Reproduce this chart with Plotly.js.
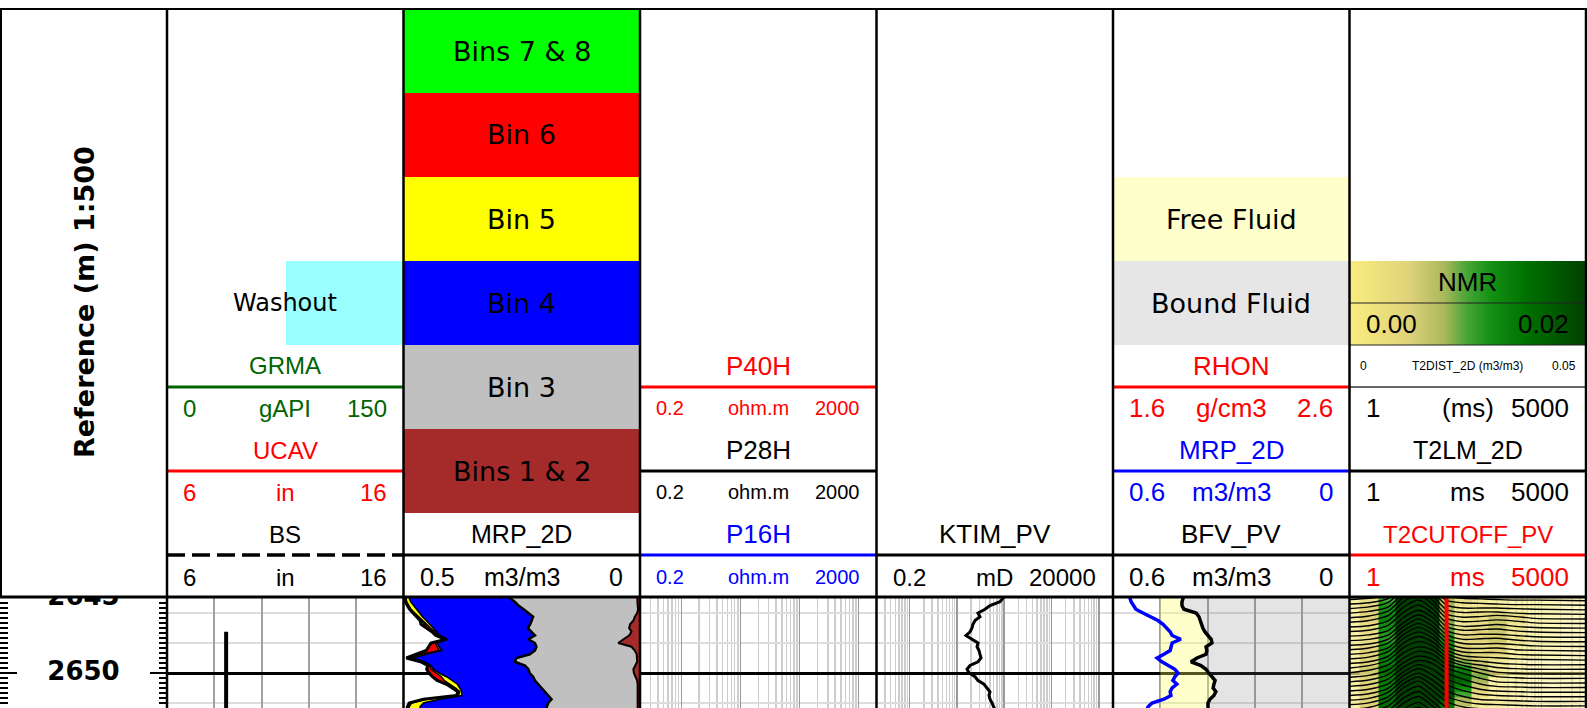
<!DOCTYPE html>
<html><head><meta charset="utf-8">
<script src="https://cdn.plot.ly/plotly-3.0.1.min.js"></script>
<style>html,body{margin:0;padding:0;background:#fff;overflow:hidden}#chart{width:1587px;height:708px}</style>
</head><body><div id="chart"></div>
<script>
const W = 1587, H = 708;
const PX = x => x / W, PY = y => 1 - y / H;

// ---------------- DATA ----------------
const depth = [2644.75,2645,2645.25,2645.5,2645.75,2646,2646.25,2646.5,2646.75,2647,2647.25,2647.5,2647.75,2648,2648.25,2648.5,2648.75,2649,2649.25,2649.5,2649.75,2650,2650.25,2650.5,2650.75,2651,2651.25,2651.5,2651.75,2652,2652.25,2652.5];
const depthLabels = [2645, 2650];

// MRP_2D bins (m3/m3)
const bin12 = [0.006,0.006,0.006,0.005,0.004,0.006,0.011,0.014,0.021,0.023,0.018,0.023,0.035,0.046,0.018,0.011,0.007,0.006,0.006,0.010,0.014,0.013,0.009,0.006,0.005,0.005,0.005,0.005,0.005,0.005,0.005,0.005];
const bin3  = [0.269,0.269,0.259,0.252,0.242,0.230,0.215,0.215,0.211,0.214,0.211,0.199,0.201,0.176,0.201,0.211,0.226,0.255,0.259,0.233,0.222,0.220,0.217,0.216,0.210,0.203,0.196,0.189,0.182,0.189,0.192,0.192];
const bin4  = [0.213,0.213,0.220,0.222,0.227,0.230,0.234,0.223,0.213,0.202,0.201,0.201,0.171,0.207,0.206,0.197,0.219,0.219,0.190,0.199,0.201,0.192,0.183,0.176,0.171,0.173,0.176,0.183,0.236,0.264,0.268,0.268];
const bin5  = [0.007,0.007,0.008,0.010,0.011,0.010,0.007,0.007,0.006,0.004,0.003,0.004,0.001,0.003,0.004,0.005,0.010,0.009,0.004,0.003,0.004,0.006,0.011,0.016,0.016,0.009,0.004,0.007,0.028,0.025,0.023,0.023];
const bin6  = [0.001,0.001,0.002,0.002,0.002,0.003,0.004,0.003,0.004,0.007,0.006,0.004,0.001,0.009,0.018,0.027,0.010,0.004,0.004,0.003,0.009,0.014,0.018,0.014,0.006,0.005,0.003,0.003,0.006,0.004,0.003,0.003];
const bin78 = [0.001,0.001,0.001,0.001,0.001,0.001,0.002,0.003,0.008,0.001,0.001,0.001,0.001,0.001,0.001,0.001,0.001,0.001,0.001,0.001,0.001,0.001,0.001,0.001,0.001,0.001,0.001,0.001,0.001,0.001,0.001,0.001];

// Bit size (in)
const bs = [null,null,null,null,null,null,null,null,null,null,8.5,8.5,8.5,8.5,8.5,8.5,8.5,8.5,8.5,8.5,8.5,8.5,8.5,8.5,8.5,8.5,8.5,8.5,8.5,8.5,8.5,8.5];
// Permeability KTIM_PV (mD)
const ktim = [110,94.4,81.7,50.2,39.4,28.0,30.8,24.2,21.9,20.9,19.0,15.6,20.9,28.0,26.7,29.4,30.8,32.4,28.0,19.0,16.4,18.1,24.2,28.0,37.5,43.4,50.2,47.8,50.2,55.3,61.0,65];
// Bound fluid volume, MRP total porosity (m3/m3)
const bfv = [0.422,0.422,0.425,0.425,0.420,0.389,0.382,0.379,0.377,0.372,0.367,0.359,0.351,0.349,0.364,0.362,0.364,0.387,0.402,0.377,0.364,0.357,0.349,0.341,0.344,0.346,0.339,0.344,0.354,0.359,0.359,0.359];
const mrp = [0.557,0.557,0.554,0.549,0.542,0.524,0.506,0.486,0.473,0.463,0.455,0.450,0.428,0.450,0.453,0.455,0.471,0.488,0.476,0.460,0.443,0.435,0.443,0.448,0.438,0.450,0.455,0.453,0.471,0.501,0.511,0.515];
const FFV_BASE = 0.48;
// T2 cutoff (ms)
const t2cutoff = [33,33,33,33,33,33,33,33,33,33,33,33,33,33,33,33,33,33,33,33,33,33,33,33,33,33,33,33,33,33,33,33];

// T2 distribution (one waveform per foot), amplitudes in m3/m3
const t2Bins = [1,2,4,7,12,20,33,60,110,200,400,800,5000];
const t2Depth = [2645.18,2645.48,2645.79,2646.09,2646.40,2646.70,2647.01,2647.31,2647.62,2647.92,2648.23,2648.53,2648.84,2649.14,2649.45,2649.75,2650.06,2650.36,2650.67,2650.97,2651.28,2651.58,2651.89,2652.19,2652.50,2652.80,2653.11,2653.41,2653.72,2654.02,2654.33,2654.63];
const t2Dist = [
[.002,.004,.010,.030,.042,.028,.008,.004,.003,.002,.001,.001,0],
[.002,.004,.011,.032,.044,.028,.008,.004,.003,.002,.001,.001,0],
[.002,.005,.012,.034,.045,.030,.008,.003,.003,.003,.002,.001,0],
[.002,.005,.012,.035,.046,.030,.008,.003,.004,.004,.002,.001,0],
[.002,.005,.013,.036,.047,.031,.008,.003,.004,.006,.004,.001,0],
[.002,.005,.013,.036,.048,.032,.009,.003,.004,.006,.004,.001,0],
[.002,.004,.012,.035,.047,.032,.009,.003,.004,.006,.003,.001,0],
[.002,.004,.012,.034,.046,.032,.010,.004,.005,.006,.003,.001,0],
[.002,.004,.011,.033,.045,.033,.011,.004,.005,.005,.003,.001,0],
[.002,.004,.011,.032,.045,.033,.012,.004,.005,.006,.003,.001,0],
[.002,.004,.012,.033,.046,.034,.013,.005,.004,.005,.003,.001,0],
[.002,.005,.013,.034,.046,.035,.014,.005,.004,.005,.002,.001,0],
[.002,.005,.013,.035,.047,.036,.015,.006,.005,.005,.002,.001,0],
[.002,.005,.014,.036,.047,.037,.017,.007,.005,.004,.002,.001,0],
[.002,.005,.014,.036,.047,.038,.019,.009,.006,.003,.001,0,0],
[.002,.006,.015,.036,.046,.039,.021,.011,.007,.003,.001,0,0],
[.002,.006,.015,.035,.045,.040,.023,.014,.008,.003,.001,0,0],
[.002,.005,.014,.034,.045,.040,.024,.016,.009,.003,.001,0,0],
[.002,.005,.014,.034,.045,.040,.025,.016,.008,.002,.001,0,0],
[.002,.005,.014,.034,.045,.040,.024,.014,.006,.002,.001,0,0],
[.002,.005,.014,.034,.046,.038,.022,.012,.005,.002,.001,0,0],
[.002,.005,.014,.035,.047,.036,.020,.010,.004,.002,.001,0,0],
[.002,.005,.015,.036,.047,.035,.018,.008,.003,.002,.001,0,0],
[.002,.005,.015,.037,.048,.034,.016,.007,.003,.002,.001,0,0],
[.002,.005,.016,.038,.049,.033,.015,.006,.003,.002,.001,0,0],
[.002,.005,.015,.037,.048,.031,.013,.005,.003,.002,.001,0,0],
[.002,.005,.015,.036,.047,.030,.012,.005,.003,.002,.001,0,0],
[.002,.005,.014,.035,.046,.030,.012,.005,.003,.002,.001,0,0],
[.002,.004,.013,.033,.044,.028,.010,.004,.003,.002,.001,0,0],
[.002,.004,.013,.032,.043,.028,.010,.004,.003,.002,.001,0,0],
[.002,.004,.012,.032,.042,.027,.010,.004,.003,.002,.001,0,0],
[.002,.004,.012,.031,.042,.027,.009,.004,.003,.002,.001,0,0]
];
const T2_STEP = 0.3048;

// ---------------- STYLE / LAYOUT HELPERS ----------------
const TR = [167, 403.5, 640, 876.5, 1113, 1349.5, 1586];
const DATA_TOP = 597, HDR_TOP = 9;
const ARIAL = 'Liberation Sans, Arial, sans-serif';
const DEJA = 'DejaVu Sans, Verdana, sans-serif';
const NMR_SCALE = 40;
const nmrCS = [[0,'#f9ed7e'],[0.25,'#e0d37a'],[0.4,'#a9b85c'],[0.5,'#45a436'],[0.6,'#129012'],[0.75,'#007000'],[1,'#004000']];
const mapCS = [[0,'rgba(252,242,140,0.5)'],[0.12,'rgba(248,236,130,0.75)'],[0.25,'#e0d37a'],[0.4,'#a9b85c'],[0.5,'#45a436'],[0.6,'#129012'],[0.75,'#007000'],[1,'#004000']];

const cum = (...arrs) => arrs[0].map((_, i) => arrs.reduce((s, a) => s + a[i], 0));
const c1 = cum(bin12), c2 = cum(bin12, bin3), c3 = cum(bin12, bin3, bin4),
      c4 = cum(bin12, bin3, bin4, bin5), c5 = cum(bin12, bin3, bin4, bin5, bin6),
      c6 = cum(bin12, bin3, bin4, bin5, bin6, bin78);

function logTicks(lo, hi) {
  const major = [], minor = [];
  for (let e = -2; e <= 5; e++) {
    for (let m = 1; m <= 9; m++) {
      const v = +(m * Math.pow(10, e)).toPrecision(6);
      if (v < lo * 0.999 || v > hi * 1.001) continue;
      (m === 1 ? major : minor).push(v);
    }
  }
  return {major, minor};
}
function trackX(i, extra) {
  return Object.assign({domain:[PX(TR[i]), PX(TR[i+1])], anchor:'y', showticklabels:false, ticks:'',
    zeroline:false, showline:false, fixedrange:true}, extra);
}
function logAxis(i, lo, hi) {
  const t = logTicks(lo, hi);
  return trackX(i, {type:'log', range:[Math.log10(lo), Math.log10(hi)], tickmode:'array', tickvals:t.major,
    showgrid:true, gridcolor:'#9a9a9a', gridwidth:1.5,
    minor:{tickmode:'array', tickvals:t.minor, showgrid:true, gridcolor:'#cdcdcd', gridwidth:1.5, ticks:''}});
}

const yRange = [2650 + (708 - 673) / 15, 2650 - (673 - DATA_TOP) / 15];
const yDom = [0, (H - DATA_TOP) / H];

// ---------------- TRACES ----------------
const traces = [];
const base = {mode:'lines', hoverinfo:'skip', showlegend:false, yaxis:'y'};
traces.push(Object.assign({}, base, {x:bs, y:depth, xaxis:'x', line:{color:'#000', width:4}}));
const binStyle = [
  [c1, '#A52A2A', 'tozerox', 2],
  [c2, '#C0C0C0', 'tonextx', 2.5],
  [c3, '#0000FF', 'tonextx', 1.5],
  [c4, '#FFFF00', 'tonextx', 1.5],
  [c5, '#FF0000', 'tonextx', 1.5],
  [c6, '#00FF00', 'tonextx', 3]
];
binStyle.forEach(([xv, col, f, w]) => traces.push(Object.assign({}, base,
  {x:xv, y:depth, xaxis:'x2', fill:f, fillcolor:col, line:{color:'#000', width:w}})));
traces.push(Object.assign({}, base, {x:[1], y:[2650], xaxis:'x3', mode:'markers', marker:{opacity:0}}));
traces.push(Object.assign({}, base, {x:ktim, y:depth, xaxis:'x4', line:{color:'#000', width:3}}));
traces.push(Object.assign({}, base, {x:bfv, y:depth, xaxis:'x5', fill:'tozerox', fillcolor:'rgba(120,120,120,0.2)', line:{width:0}}));
traces.push(Object.assign({}, base, {x:depth.map(() => FFV_BASE), y:depth, xaxis:'x5', line:{width:0}}));
traces.push(Object.assign({}, base, {x:bfv, y:depth, xaxis:'x5', fill:'tonextx', fillcolor:'rgba(255,255,100,0.33)', line:{color:'#000', width:3.5}}));
traces.push(Object.assign({}, base, {x:mrp, y:depth, xaxis:'x5', line:{color:'#0000FF', width:3.5}}));

// Track 6 : T2 distribution image (cells coloured by amplitude) + wiggle traces
const binEdges = [t2Bins[0]];
for (let j = 1; j < t2Bins.length; j++) binEdges.push(Math.sqrt(t2Bins[j - 1] * t2Bins[j]));
binEdges.push(t2Bins[t2Bins.length - 1]);
const rowEdges = [t2Depth[0] - T2_STEP].concat(t2Depth);
traces.push({type:'heatmap', z:t2Dist, x:binEdges, y:rowEdges, xaxis:'x6', yaxis:'y', zmin:0, zmax:0.02,
  colorscale:mapCS, showscale:false, hoverinfo:'skip', zsmooth:false});
t2Dist.forEach((row, i) => {
  const b = t2Depth[i];
  traces.push(Object.assign({}, base, {x:t2Bins, y:row.map(a => b - a * NMR_SCALE), xaxis:'x6',
    line:{color:'#000', width:1.4, shape:'spline', smoothing:0.8}}));
});
traces.push(Object.assign({}, base, {x:t2cutoff, y:depth, xaxis:'x6', line:{color:'#FF0000', width:4}}));
// Depth labels
traces.push({type:'scatter', mode:'text', x:depthLabels.map(() => 0.5), y:depthLabels, text:depthLabels.map(String),
  xaxis:'x7', yaxis:'y3', textposition:'middle center', cliponaxis:true, hoverinfo:'skip', showlegend:false,
  textfont:{family:DEJA, size:26, color:'#000', weight:700}});
traces.push({type:'scatter', mode:'markers', x:[0.5], y:[2650], xaxis:'x7', yaxis:'y4', marker:{opacity:0}, hoverinfo:'skip', showlegend:false});
// NMR colour legend bar
const barZ = [[0,0.001,0.002,0.003,0.004,0.005,0.006,0.007,0.008,0.009,0.01,0.011,0.012,0.013,0.014,0.015,0.016,0.017,0.018,0.019,0.02]];
traces.push({type:'heatmap', z:barZ, x:barZ[0].map(v => v / 0.02), y:[0], xaxis:'x8', yaxis:'y2', zmin:0, zmax:0.02,
  colorscale:nmrCS, zsmooth:'best', showscale:false, hoverinfo:'skip'});

// ---------------- SHAPES ----------------
const shapes = [];
const rect = (x0, x1, y0, y1, fill) => shapes.push({type:'rect', xref:'paper', yref:'paper', x0:PX(x0), x1:PX(x1), y0:PY(y1), y1:PY(y0), fillcolor:fill, line:{width:0}, layer:'above'});
const hline = (y, x0, x1, color, width, dash) => shapes.push({type:'line', xref:'paper', yref:'paper', x0:PX(x0), x1:PX(x1), y0:PY(y), y1:PY(y), line:{color, width, dash:dash || 'solid'}, layer:'above'});
const vline = (x, y0, y1, color, width) => shapes.push({type:'line', xref:'paper', yref:'paper', x0:PX(x), x1:PX(x), y0:PY(y0), y1:PY(y1), line:{color, width}, layer:'above'});

rect(286, TR[1], 261, 345, '#99FFFF');
const binBoxes = [['#00FF00','Bins 7 & 8'],['#FF0000','Bin 6'],['#FFFF00','Bin 5'],['#0000FF','Bin 4'],['#C0C0C0','Bin 3'],['#A52A2A','Bins 1 & 2']];
binBoxes.forEach(([c], k) => rect(TR[1], TR[2], HDR_TOP + 84 * k, HDR_TOP + 84 * (k + 1), c));
rect(TR[4], TR[5], 177, 261, '#FFFFCC');
rect(TR[4], TR[5], 261, 345, '#E6E6E6');
hline(387, TR[0], TR[1], '#006400', 3); hline(471, TR[0], TR[1], '#FF0000', 3); hline(555, TR[0], TR[1], '#000', 3.5, '18px,7px');
hline(555, TR[1], TR[2], '#000', 3);
hline(387, TR[2], TR[3], '#FF0000', 3); hline(471, TR[2], TR[3], '#000', 3); hline(555, TR[2], TR[3], '#0000FF', 3);
hline(555, TR[3], TR[4], '#000', 3);
hline(387, TR[4], TR[5], '#FF0000', 3); hline(471, TR[4], TR[5], '#0000FF', 3); hline(555, TR[4], TR[5], '#000', 3);
hline(303, TR[5], TR[6], '#222', 1); hline(345, TR[5], TR[6], '#222', 1);
hline(387, TR[5], TR[6], '#333', 1.5); hline(471, TR[5], TR[6], '#000', 3); hline(555, TR[5], TR[6], '#FF0000', 3);
hline(HDR_TOP, 0, W, '#000', 2);
hline(DATA_TOP, 0, W, '#000', 3);
vline(1, HDR_TOP, DATA_TOP, '#000', 2);
TR.forEach(x => vline(x, HDR_TOP, H, '#000', 2.5));

// ---------------- ANNOTATIONS ----------------
const annotations = [];
const T = (x, y, text, size, color, xanchor, family, extra) => annotations.push(Object.assign({xref:'paper', yref:'paper',
  x:PX(x), y:PY(y), text, showarrow:false, xanchor:xanchor || 'center', yanchor:'middle',
  font:{family:family || ARIAL, size, color:color || '#000'}}, extra || {}));
const mid = i => (TR[i] + TR[i+1]) / 2;
const scaleRow = (i, y, l, u, r, size, color) => {
  T(TR[i] + 14, y, l, size, color, 'left'); T(mid(i), y, u, size, color); T(TR[i+1] - 15, y, r, size, color, 'right');
};

T(84, 302, '<b>Reference (m) 1:500</b>', 27, '#000', 'center', DEJA, {textangle:-90});
T(mid(0), 303, 'Washout', 24, '#000', 'center', DEJA);
T(mid(0), 366, 'GRMA', 24, '#006400'); scaleRow(0, 408, '0', 'gAPI', '150', 24, '#006400');
T(mid(0), 450, 'UCAV', 24, '#FF0000'); scaleRow(0, 492, '6', 'in', '16', 24, '#FF0000');
T(mid(0), 534, 'BS', 24, '#000'); scaleRow(0, 577, '6', 'in', '16', 24, '#000');
binBoxes.forEach(([c, t], k) => T(mid(1), HDR_TOP + 42 + 84 * k, t, 27, '#000', 'center', DEJA));
T(mid(1), 534, 'MRP_2D', 25, '#000'); scaleRow(1, 577, '0.5', 'm3/m3', '0', 25, '#000');
T(mid(2), 366, 'P40H', 26, '#FF0000'); scaleRow(2, 408, '0.2', 'ohm.m', '2000', 20, '#FF0000');
T(mid(2), 450, 'P28H', 26, '#000'); scaleRow(2, 492, '0.2', 'ohm.m', '2000', 20, '#000');
T(mid(2), 534, 'P16H', 26, '#0000FF'); scaleRow(2, 577, '0.2', 'ohm.m', '2000', 20, '#0000FF');
T(mid(3), 534, 'KTIM_PV', 26, '#000'); scaleRow(3, 577, '0.2', 'mD', '20000', 24, '#000');
T(mid(4), 219, 'Free Fluid', 27, '#000', 'center', DEJA);
T(mid(4), 303, 'Bound Fluid', 27, '#000', 'center', DEJA);
T(mid(4), 366, 'RHON', 26, '#FF0000'); scaleRow(4, 408, '1.6', 'g/cm3', '2.6', 26, '#FF0000');
T(mid(4), 450, 'MRP_2D', 26, '#0000FF'); scaleRow(4, 492, '0.6', 'm3/m3', '0', 26, '#0000FF');
T(mid(4), 534, 'BFV_PV', 26, '#000'); scaleRow(4, 577, '0.6', 'm3/m3', '0', 26, '#000');
T(mid(5), 282, 'NMR', 26, '#000');
T(TR[5] + 14, 324, '0.00', 26, '#000', 'left'); T(TR[6] - 15, 324, '0.02', 26, '#000', 'right');
T(TR[5] + 8, 366, '0', 12, '#000', 'left'); T(mid(5), 366, 'T2DIST_2D (m3/m3)', 12, '#000'); T(TR[6] - 8, 366, '0.05', 12, '#000', 'right');
scaleRow(5, 408, '1', '(ms)', '5000', 26, '#000');
T(mid(5), 450, 'T2LM_2D', 25, '#000');
scaleRow(5, 492, '1', 'ms', '5000', 26, '#000');
T(mid(5), 534, 'T2CUTOFF_PV', 24, '#FF0000');
scaleRow(5, 577, '1', 'ms', '5000', 26, '#FF0000');

// ---------------- LAYOUT ----------------
const rulerY = (extra) => Object.assign({domain:yDom, range:yRange, anchor:'x7', showticklabels:false,
  ticks:'inside', ticklen:17, tickwidth:2, tickcolor:'#000', tickmode:'linear', tick0:0, dtick:5,
  minor:{tickmode:'linear', tick0:0, dtick:1/3, ticks:'inside', ticklen:8, tickwidth:2, tickcolor:'#000'},
  showgrid:false, zeroline:false, showline:false, fixedrange:true}, extra);

const layout = {
  width:W, height:H, margin:{l:0, r:0, t:0, b:0, pad:0}, paper_bgcolor:'#fff', plot_bgcolor:'rgba(0,0,0,0)',
  showlegend:false, hovermode:false,
  xaxis: trackX(0, {range:[6, 16], tickmode:'linear', tick0:6, dtick:2, showgrid:true, gridcolor:'#a0a0a0', gridwidth:2}),
  xaxis2: trackX(1, {range:[0.5, 0], showgrid:false}),
  xaxis3: logAxis(2, 0.2, 2000),
  xaxis4: logAxis(3, 0.2, 20000),
  xaxis5: trackX(4, {range:[0.6, 0], tickmode:'linear', tick0:0, dtick:0.12, showgrid:true, gridcolor:'#a0a0a0', gridwidth:2}),
  xaxis6: logAxis(5, 1, 5000),
  xaxis7: {domain:[0, PX(TR[0])], range:[0, 1], anchor:'y3', visible:false, fixedrange:true},
  xaxis8: {domain:[PX(TR[5]), PX(TR[6])], range:[0, 1], anchor:'y2', visible:false, fixedrange:true},
  yaxis: {domain:yDom, range:yRange, anchor:'x', showticklabels:false, ticks:'', showline:false, zeroline:false,
    showgrid:true, tickmode:'linear', tick0:0, dtick:10, gridcolor:'#000', gridwidth:3,
    minor:{tickmode:'linear', tick0:0, dtick:2, showgrid:true, gridcolor:'#dddddd', gridwidth:2}, fixedrange:true},
  yaxis2: {domain:[PY(345), PY(261)], range:[-0.5, 0.5], anchor:'x8', visible:false, fixedrange:true},
  yaxis3: rulerY({side:'left'}),
  yaxis4: rulerY({side:'right', overlaying:'y3'}),
  shapes, annotations
};

Plotly.newPlot('chart', traces, layout, {staticPlot:true, displayModeBar:false});
</script>
</body></html>
